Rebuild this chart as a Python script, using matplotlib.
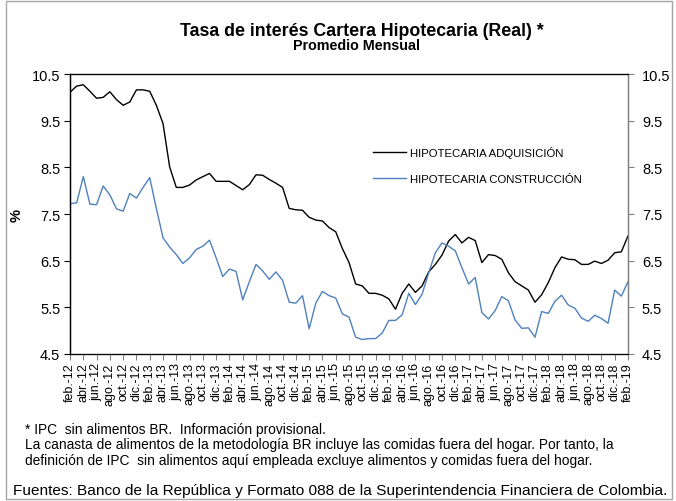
import matplotlib
matplotlib.use('Agg')
import matplotlib.pyplot as plt
from matplotlib.patches import Rectangle

plt.rcParams['font.family'] = ['Liberation Sans', 'DejaVu Sans']

# month abbreviations used on the axis (spanish)
meses = ['ene.', 'feb.', 'mar.', 'abr.', 'may.', 'jun.',
         'jul.', 'ago.', 'sep.', 'oct.', 'nov.', 'dic.']

# monthly values feb-12 .. feb-19
adquisicion = [10.11, 10.24, 10.27, 10.13, 9.98, 10.00, 10.12, 9.95, 9.83, 9.90,
               10.16, 10.16, 10.13, 9.83, 9.44, 8.51, 8.07, 8.07, 8.12, 8.23,
               8.30, 8.37, 8.20, 8.20, 8.20, 8.11, 8.02, 8.13, 8.34, 8.33,
               8.24, 8.16, 8.07, 7.62, 7.59, 7.58, 7.43, 7.37, 7.35, 7.21,
               7.12, 6.76, 6.46, 6.00, 5.96, 5.80, 5.80, 5.76, 5.68, 5.46,
               5.80, 6.00, 5.82, 5.96, 6.26, 6.42, 6.62, 6.92, 7.06, 6.88,
               7.00, 6.93, 6.46, 6.63, 6.61, 6.53, 6.24, 6.05, 5.96, 5.87,
               5.61, 5.77, 6.03, 6.35, 6.58, 6.53, 6.52, 6.42, 6.42, 6.49,
               6.44, 6.51, 6.67, 6.69, 7.03]

construccion = [7.72, 7.74, 8.30, 7.71, 7.70, 8.10, 7.91, 7.61, 7.56, 7.94,
                7.84, 8.07, 8.28, 7.62, 6.99, 6.79, 6.63, 6.44, 6.56, 6.74,
                6.81, 6.94, 6.56, 6.16, 6.32, 6.27, 5.66, 6.05, 6.42, 6.28,
                6.10, 6.26, 6.08, 5.61, 5.59, 5.75, 5.04, 5.59, 5.84, 5.75,
                5.70, 5.36, 5.29, 4.86, 4.81, 4.83, 4.83, 4.95, 5.22, 5.22,
                5.34, 5.80, 5.56, 5.78, 6.24, 6.67, 6.88, 6.81, 6.71, 6.35,
                6.00, 6.14, 5.39, 5.25, 5.43, 5.73, 5.64, 5.23, 5.05, 5.06,
                4.86, 5.41, 5.37, 5.63, 5.76, 5.55, 5.48, 5.27, 5.20, 5.33,
                5.26, 5.16, 5.87, 5.74, 6.05]

y_ticks = [4.5, 5.5, 6.5, 7.5, 8.5, 9.5, 10.5]

# build the month labels
fechas = []
for k in range(len(adquisicion)):
    m = (1 + k) % 12
    a = 12 + (1 + k) // 12
    fechas.append('{}-{}'.format(meses[m], a))

x = list(range(len(adquisicion)))

fig = plt.figure(figsize=(6.76, 5.02), dpi=100)
ax = fig.add_axes([70 / 676, 1 - 355 / 502, 558 / 676, 280 / 502])

ax.plot(x, adquisicion, color='black', lw=1.0, label='HIPOTECARIA ADQUISICIÓN')
ax.plot(x, construccion, color='#4F81BD', lw=1.0, label='HIPOTECARIA CONSTRUCCIÓN')

ax.set_xlim(0, len(x) - 1)
ax.set_ylim(4.5, 10.5)
ax.set_yticks(y_ticks)
ax.set_yticklabels(['{:.1f}'.format(v) for v in y_ticks], fontsize=10.5)
ax.set_xticks(x[::2])
ax.set_xticklabels(fechas[::2], rotation=90, fontsize=9)
ax.tick_params(axis='x', direction='out', length=4, color='#808080', pad=2)
ax.tick_params(axis='y', direction='out', length=4, pad=3)
ax.set_ylabel('%', fontsize=10.5, fontweight='bold', labelpad=6)

ax.spines['left'].set_color('black')
ax.spines['bottom'].set_color('#808080')
ax.spines['top'].set_color('#595959')
ax.spines['right'].set_color('#808080')
for s in ax.spines.values():
    s.set_linewidth(1.0)

ax2 = ax.twinx()
ax2.set_ylim(4.5, 10.5)
ax2.set_yticks(y_ticks)
ax2.set_yticklabels(['{:.1f}'.format(v) for v in y_ticks], fontsize=10.5)
ax2.tick_params(axis='y', direction='out', length=4, color='#808080', pad=6)
ax2.spines['right'].set_color('#808080')

ax.legend(loc='upper left', bbox_to_anchor=(0.525, 0.78), frameon=False,
          fontsize=8.2, handlelength=2.9, handletextpad=0.3, labelspacing=1.45)

fig.text(0.535, 0.938, 'Tasa de interés Cartera Hipotecaria (Real) *',
         ha='center', va='center', fontsize=12.8, fontweight='bold')
fig.text(0.527, 0.909, 'Promedio Mensual', ha='center', va='center',
         fontsize=10.3, fontweight='bold')

notas = ['* IPC  sin alimentos BR.  Información provisional.',
         'La canasta de alimentos de la metodología BR incluye las comidas fuera del hogar. Por tanto, la',
         'definición de IPC  sin alimentos aquí empleada excluye alimentos y comidas fuera del hogar.']
for i, t in enumerate(notas):
    fig.text(25 / 676, 1 - (430 + 15.5 * i) / 502, t, ha='left', va='center', fontsize=9.9)

fig.text(13 / 676, 1 - 491 / 502,
         'Fuentes: Banco de la República y Formato 088 de la Superintendencia Financiera de Colombia.',
         ha='left', va='center', fontsize=11.1)

fig.patches.append(Rectangle((6 / 676, 0.004), 666 / 676, 0.992, transform=fig.transFigure,
                             fill=False, edgecolor='#A6A6A6', lw=1.0))

fig.savefig('out.png', dpi=100)
